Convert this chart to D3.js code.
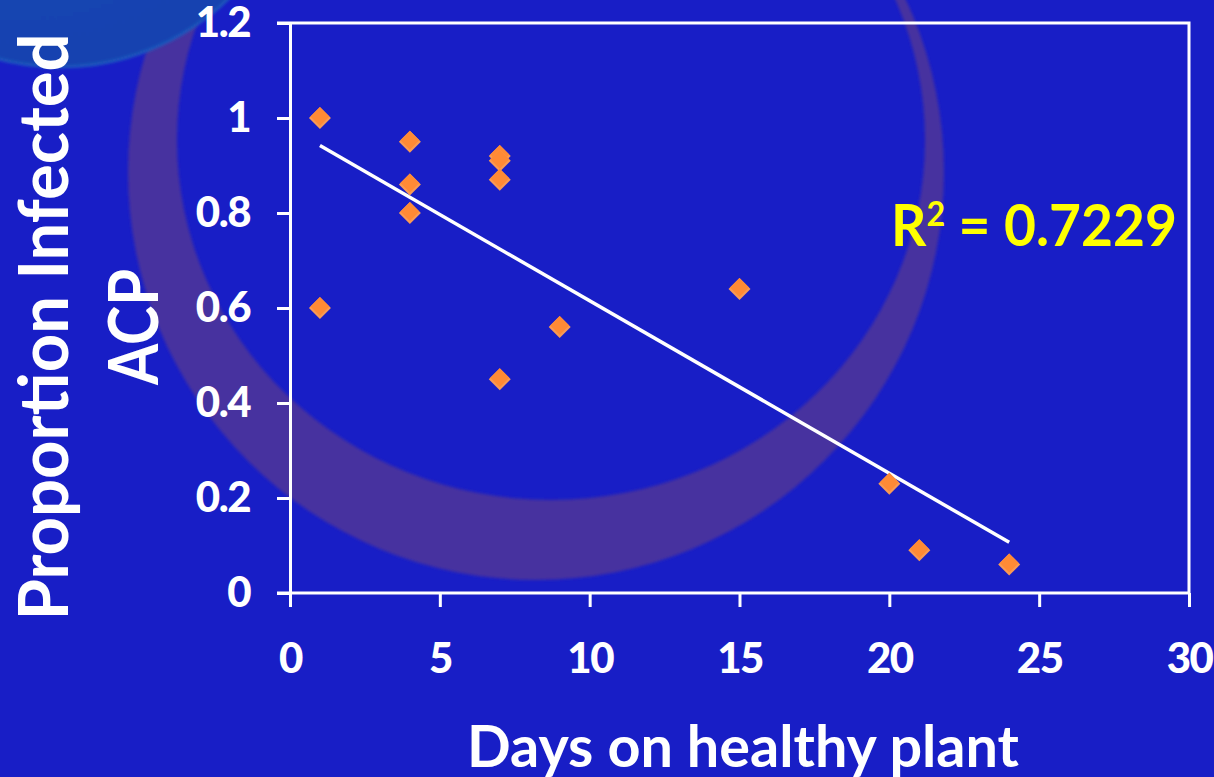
<!DOCTYPE html>
<html>
<head>
<meta charset="utf-8">
<script src="https://cdn.jsdelivr.net/npm/d3@7"></script>
<style>
  html, body { margin: 0; padding: 0; background: #181ec6; overflow: hidden; }
  svg { display: block; }
</style>
</head>
<body>
<svg id="chart" width="1214" height="777"></svg>
<script>
// Observations: days the psyllids spent on a healthy plant vs. proportion infected
const days       = [1,   1,   4,    4,    4,   7,    7,    7,    7,    9,    15,   20,   21,   24];
const proportion = [1.0, 0.6, 0.95, 0.86, 0.8, 0.92, 0.91, 0.87, 0.45, 0.56, 0.64, 0.23, 0.09, 0.06];

const xTicks = [0, 5, 10, 15, 20, 25, 30];
const yTicks = [0, 0.2, 0.4, 0.6, 0.8, 1, 1.2];
const yTickLabels = ["0", "0.2", "0.4", "0.6", "0.8", "1", "1.2"];

const xTitle = "Days on healthy plant";
const yTitleLines = ["Proportion Infected", "ACP"];
const rSquaredValue = "0.7229";

const W = 1214, H = 777;
const margin = { left: 290, right: 25, top: 23, bottom: 184 };
const plotW = W - margin.left - margin.right;
const plotH = H - margin.top - margin.bottom;

const svg = d3.select("#chart");

// ---- decorative backdrop -------------------------------------------------
const defs = svg.append("defs");
const soft = defs.append("filter").attr("id", "soft")
  .attr("x", "-10%").attr("y", "-10%").attr("width", "120%").attr("height", "120%");
soft.append("feGaussianBlur").attr("stdDeviation", 1.4);

const blobGrad = defs.append("radialGradient").attr("id", "blobGrad")
  .attr("cx", "40%").attr("cy", "30%").attr("r", "70%");
blobGrad.append("stop").attr("offset", "0%").attr("stop-color", "#1a4bb3");
blobGrad.append("stop").attr("offset", "100%").attr("stop-color", "#1942b0");

const bg = svg.append("g").attr("class", "backdrop");

// crescent ring
const ring = d3.path();
ring.moveTo(536 + 408, 172);
ring.arc(536, 172, 408, 0, 2 * Math.PI);
ring.closePath();
bg.append("path")
  .attr("d", ring.toString() +
    ` M ${551 + 374} 140 A 374 360 0 1 0 ${551 - 374} 140 A 374 360 0 1 0 ${551 + 374} 140 Z`)
  .attr("fill", "#46309f")
  .attr("fill-rule", "evenodd")
  .attr("filter", "url(#soft)");

// corner disc
bg.append("circle")
  .attr("cx", 60).attr("cy", -175).attr("r", 242)
  .attr("fill", "url(#blobGrad)")
  .attr("stroke", "#1f5cbf").attr("stroke-width", 2.5)
  .attr("filter", "url(#soft)");

// ---- scales --------------------------------------------------------------
const x = d3.scaleLinear().domain([0, 30]).range([margin.left, margin.left + plotW]);
const y = d3.scaleLinear().domain([0, 1.2]).range([margin.top + plotH, margin.top]);

const tickFont = "Lato, 'Open Sans', sans-serif";

// ---- axes ----------------------------------------------------------------
const yAxis = svg.append("g")
  .attr("transform", `translate(${margin.left},0)`)
  .call(d3.axisLeft(y)
    .tickValues(yTicks)
    .tickFormat((d, i) => yTickLabels[i])
    .tickSize(13)
    .tickSizeOuter(0)
    .tickPadding(27));

const xAxis = svg.append("g")
  .attr("transform", `translate(0,${margin.top + plotH})`)
  .call(d3.axisBottom(x)
    .tickValues(xTicks)
    .tickSize(14)
    .tickSizeOuter(0)
    .tickPadding(36));

[yAxis, xAxis].forEach(g => {
  g.select(".domain").attr("stroke", "#ffffff").attr("stroke-width", 3);
  g.selectAll(".tick line").attr("stroke", "#ffffff").attr("stroke-width", 3);
  g.selectAll(".tick text")
    .attr("fill", "#ffffff")
    .style("font-family", tickFont)
    .style("font-weight", "900")
    .style("font-size", "42px")
    .style("letter-spacing", "-1.5px");
});
xAxis.select(".domain").attr("d", `M${margin.left - 13},0H${margin.left + plotW}`);

// frame: top and right edges of the plot area
svg.append("path")
  .attr("d", `M${margin.left - 13},${margin.top}H${margin.left + plotW}V${margin.top + plotH}`)
  .attr("fill", "none")
  .attr("stroke", "#ffffff")
  .attr("stroke-width", 3);

// ---- linear trend line (least squares) ----------------------------------
const n = days.length;
const mx = d3.mean(days), my = d3.mean(proportion);
let sxy = 0, sxx = 0;
for (let i = 0; i < n; i++) {
  sxy += (days[i] - mx) * (proportion[i] - my);
  sxx += (days[i] - mx) * (days[i] - mx);
}
const slope = sxy / sxx;
const intercept = my - slope * mx;
const [xMin, xMax] = d3.extent(days);

svg.append("line")
  .attr("x1", x(xMin)).attr("y1", y(intercept + slope * xMin))
  .attr("x2", x(xMax)).attr("y2", y(intercept + slope * xMax))
  .attr("stroke", "#ffffff")
  .attr("stroke-width", 3.5);

// ---- points (orange diamonds) --------------------------------------------
const r = 11;
const diamond = (cx, cy, s) => `M${cx},${cy - s}L${cx + s},${cy}L${cx},${cy + s}L${cx - s},${cy}Z`;
const pts = svg.append("g").selectAll("g").data(days.map((d, i) => [d, proportion[i]])).join("g");
pts.append("path")
  .attr("d", d => diamond(x(d[0]), y(d[1]), r))
  .attr("fill", "#f99a55");
pts.append("path")
  .attr("d", d => diamond(x(d[0]), y(d[1]) - 1.5, r - 1.5))
  .attr("fill", "#ff8a35");

// ---- R² annotation -------------------------------------------------------
const rText = svg.append("text")
  .attr("x", 891).attr("y", 246)
  .attr("fill", "#ffff00")
  .style("font-family", tickFont)
  .style("font-size", "58px")
  .style("font-weight", "700");
rText.append("tspan").text("R");
rText.append("tspan").text("2").attr("dy", -20).style("font-size", "34px");
rText.append("tspan").text(" = " + rSquaredValue).attr("dy", 20);
rText.attr("textLength", 286).attr("lengthAdjust", "spacingAndGlyphs");

// ---- axis titles ---------------------------------------------------------
svg.append("text")
  .attr("x", 743).attr("y", 767)
  .attr("text-anchor", "middle")
  .attr("fill", "#ffffff")
  .attr("textLength", 552)
  .attr("lengthAdjust", "spacingAndGlyphs")
  .style("font-family", tickFont)
  .style("font-size", "58px")
  .style("font-weight", "700")
  .text(xTitle);

const yTitleBaselines = [68, 158];
const yTitleLengths = [587, 116];
yTitleLines.forEach((line, i) => {
  svg.append("text")
    .attr("transform", `translate(${yTitleBaselines[i]},327) rotate(-90)`)
    .attr("text-anchor", "middle")
    .attr("fill", "#ffffff")
    .attr("textLength", yTitleLengths[i])
    .attr("lengthAdjust", "spacingAndGlyphs")
    .style("font-family", tickFont)
    .style("font-size", "68px")
    .style("font-weight", "700")
    .text(line);
});
</script>
</body>
</html>
